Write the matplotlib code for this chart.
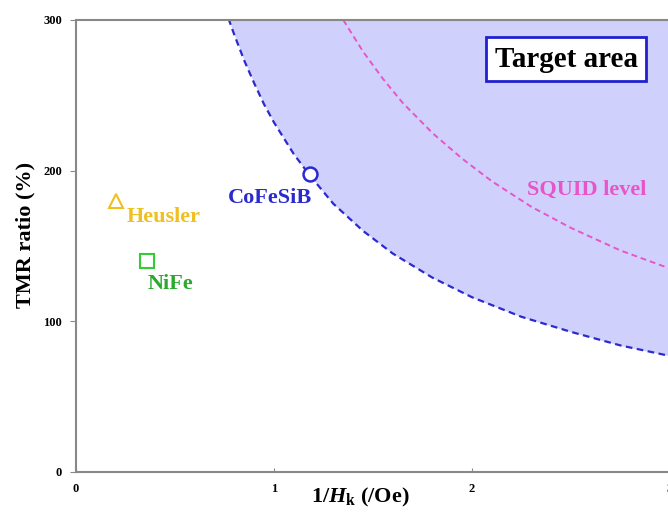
import matplotlib.pyplot as plt

plt.rcParams['font.family'] = 'Liberation Serif'
plt.rcParams['font.weight'] = 'bold'
plt.rcParams['mathtext.fontset'] = 'custom'
plt.rcParams['mathtext.rm'] = 'Liberation Serif:bold'
plt.rcParams['mathtext.it'] = 'Liberation Serif:italic:bold'

# boundary curves
cofesib_x = [0.77, 0.8, 0.85, 0.9, 0.95, 1.0, 1.1, 1.18, 1.3, 1.45, 1.6, 1.8, 2.0, 2.25, 2.5, 2.75, 3.0]
cofesib_y = [301, 290, 273, 258, 244, 232, 211, 197, 178, 160, 145, 129, 116, 103, 93, 84, 77]
squid_x = [1.35, 1.45, 1.55, 1.65, 1.8, 1.95, 2.1, 2.3, 2.5, 2.75, 3.0]
squid_y = [300, 279, 261, 245, 225, 208, 193, 176, 162, 147, 135]

# materials
heusler = (0.20, 180)
nife = (0.36, 140)
cofesib = (1.18, 198)

x_ticks = [0, 1, 2, 3]
y_ticks = [0, 100, 200, 300]

fig = plt.figure(figsize=(6.68, 5.15), dpi=100)
ax = fig.add_axes([76 / 668, 43 / 515, 594 / 668, 452 / 515])

ax.fill_between(cofesib_x, cofesib_y, 300, color='#d0d0fc', lw=0)
ax.plot(cofesib_x, cofesib_y, '--', color='#2a2ad0', lw=1.6, dashes=(3, 2))
ax.plot(squid_x, squid_y, '--', color='#e855c8', lw=1.4, dashes=(3, 2))

ax.plot(*heusler, '^', ms=10, mfc='white', mec='#f0c020', mew=1.5)
ax.plot(*nife, 's', ms=10, mfc='white', mec='#33cc33', mew=1.5)
ax.plot(*cofesib, 'o', ms=10, mfc='white', mec='#2a2ad0', mew=1.8)

ax.text(0.255, 169, 'Heusler', color='#eec020', fontsize=16, fontweight='bold', va='center')
ax.text(0.36, 125, 'NiFe', color='#2aaa2a', fontsize=16, fontweight='bold', va='center')
ax.text(0.765, 182, 'CoFeSiB', color='#2a2ad0', fontsize=16, fontweight='bold', va='center')
ax.text(2.28, 187, 'SQUID level', color='#e855c8', fontsize=16, fontweight='bold', va='center')
ax.text(2.475, 274, 'Target area', fontsize=21, fontweight='bold', ha='center', va='center',
        bbox=dict(boxstyle='square,pad=0.3', fc='white', ec='#2020d0', lw=2))

ax.set_xlim(0, 3)
ax.set_ylim(0, 300)
ax.set_xticks(x_ticks)
ax.set_yticks(y_ticks)
ax.tick_params(axis='x', direction='in', length=3, labelsize=9, pad=8, color='#888888')
ax.tick_params(axis='y', direction='out', length=4, labelsize=9, pad=6, color='#888888')
for lab in ax.get_xticklabels() + ax.get_yticklabels():
    lab.set_fontweight('bold')
for s in ['left', 'bottom', 'top']:
    ax.spines[s].set_color('#888888')
    ax.spines[s].set_linewidth(1.5)
ax.spines['right'].set_visible(False)

ax.set_xlabel('1/$\\mathit{H}_{\\mathrm{k}}$ (/Oe)', fontsize=16, fontweight='bold')
ax.set_ylabel('TMR ratio (%)', fontsize=16, fontweight='bold')
ax.xaxis.set_label_coords((360 - 76) / 594, -(497 - 472) / 452)
ax.yaxis.set_label_coords(-(76 - 25) / 594, (472 - 235) / 452)
ax.xaxis.label.set_va('center')
ax.yaxis.label.set_va('center')

fig.savefig('out.png', dpi=100)
